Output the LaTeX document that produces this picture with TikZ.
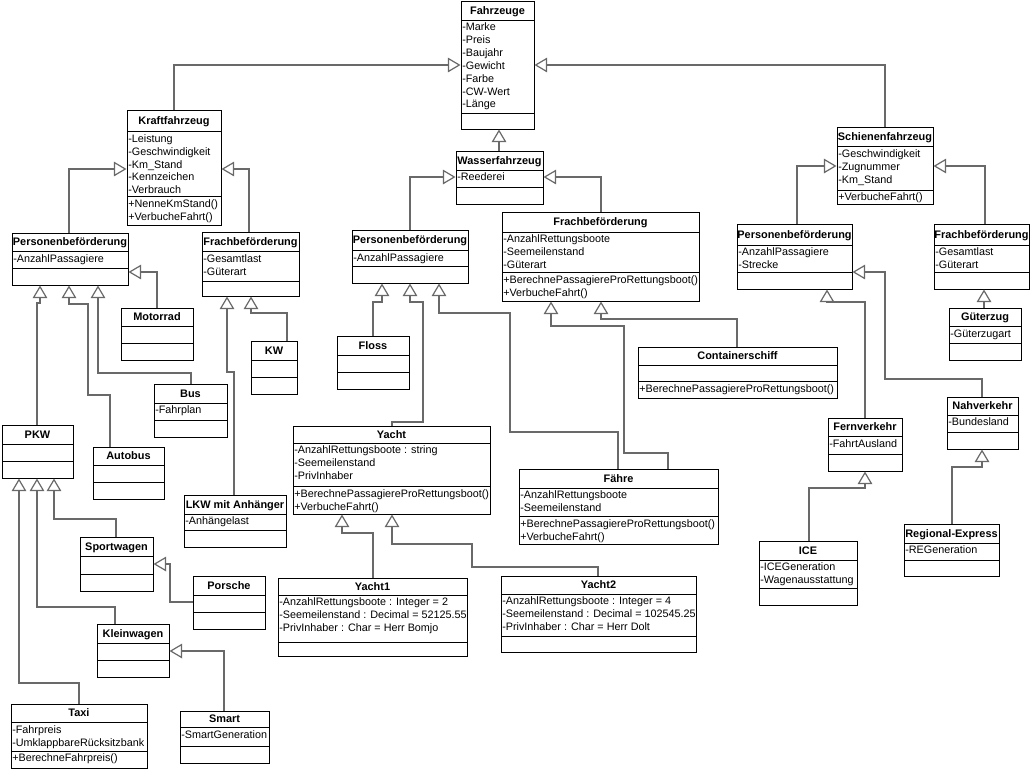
\documentclass[tikz,border=0pt]{standalone}
\usepackage{fontspec}
\setmainfont{Liberation Sans}
\usetikzlibrary{arrows.meta,fit}
\definecolor{linegray}{RGB}{105,105,105}
\tikzset{
 cls/.style={draw=black, line width=0.75pt, fill=white, inner sep=0pt},
 divider/.style={draw=black, line width=0.75pt},
 gen/.style={draw=linegray, line width=0.9pt, -{Triangle[open,length=9.5pt,width=11pt]}},
 ttl/.style={anchor=base, inner sep=0pt, font=\fontsize{8.2pt}{9.7pt}\selectfont\bfseries},
 txt/.style={anchor=base west, inner sep=0pt, font=\fontsize{8.1pt}{9.7pt}\selectfont},
}
\newcommand\umlclass[8]{%
  \node[cls, fit={(#2,#3) (#4,#5)}] (#1) {};
  \draw[divider] (#2,#6) -- (#4,#6);
  \draw[divider] (#2,#7) -- (#4,#7);
  \node[ttl] (#1-t) at ({(#2+#4)/2},{(#3+#6)/2+3.5}) {#8};
}
\newcommand\umllines[4]{%
  \foreach \itm [count=\nn from 0] in {#4} {\node[txt] (#1\nn) at ({#2+1},{#3+10.5+12.9*\nn}) {\itm};}
}
\begin{document}
\begin{tikzpicture}[x=0.75pt,y=-0.75pt, font=\fontsize{8.1pt}{9.7pt}\selectfont]
\fill[white] (0,0) rectangle (1034,769);
\useasboundingbox (0,0) rectangle (1034,769);

% ---- classes ----
\umlclass{Fz}{461}{1}{534}{129}{20}{113}{Fahrzeuge}
\umllines{Fz-a}{461}{20}{-Marke,-Preis,-Baujahr,-Gewicht,-Farbe,-CW-Wert,-Länge}

\umlclass{Kfz}{127}{110}{221}{225}{131.7}{196.7}{Kraftfahrzeug}
\umllines{Kfz-a}{127}{131.7}{-Leistung,-Geschwindigkeit,-Km\_Stand,-Kennzeichen,-Verbrauch}
\umllines{Kfz-m}{127}{196.7}{+NenneKmStand(),+VerbucheFahrt()}

\umlclass{Wf}{456}{151}{543}{204}{170}{187.7}{Wasserfahrzeug}
\umllines{Wf-a}{456}{170}{-Reederei}

\umlclass{Sf}{837}{127}{933}{204}{146.7}{190}{Schienenfahrzeug}
\umllines{Sf-a}{837}{146.7}{-Geschwindigkeit,-Zugnummer,-Km\_Stand}
\umllines{Sf-m}{837}{190}{+VerbucheFahrt()}

\umlclass{PbK}{12}{233}{128}{285}{251.7}{268.3}{Personenbeförderung}
\umllines{PbK-a}{12}{251.7}{-AnzahlPassagiere}

\umlclass{FbK}{202}{232}{299}{296}{251.7}{281.5}{Frachbeförderung}
\umllines{FbK-a}{202}{251.7}{-Gesamtlast,-Güterart}

\umlclass{Motorrad}{121}{308}{193}{360}{326.7}{343.3}{Motorrad}
\umlclass{KW}{251}{341}{297}{394}{360}{377.3}{KW}
\umlclass{Bus}{154}{384}{227}{437}{403.3}{420.7}{Bus}
\umllines{Bus-a}{154}{403.3}{-Fahrplan}
\umlclass{PKW}{2}{425}{73}{478}{444}{461}{PKW}
\umlclass{Autobus}{93}{447}{164}{499}{465.7}{482.3}{Autobus}
\umlclass{LKW}{184}{495}{286}{547}{514}{530.7}{LKW mit Anhänger}
\umllines{LKW-a}{184}{514}{-Anhängelast}
\umlclass{Sportwagen}{80}{537}{153}{591}{556.7}{574}{Sportwagen}
\umlclass{Porsche}{193}{576}{265}{629}{595.3}{612.3}{Porsche}
\umlclass{Kleinwagen}{97}{624}{169}{677}{643.3}{660}{Kleinwagen}
\umlclass{Taxi}{11}{704}{147}{768}{722.7}{751}{Taxi}
\umllines{Taxi-a}{11}{722.7}{-Fahrpreis,-UmklappbareRücksitzbank}
\umllines{Taxi-m}{11}{751}{+BerechneFahrpreis()}
\umlclass{Smart}{180}{711}{269}{763}{727.7}{746}{Smart}
\umllines{Smart-a}{180}{727.7}{-SmartGeneration}

\umlclass{PbW}{352}{230}{468}{283}{250.7}{266}{Personenbeförderung}
\umllines{PbW-a}{352}{250.7}{-AnzahlPassagiere}
\umlclass{FbW}{502}{212}{699}{301}{232.3}{272.7}{Frachbeförderung}
\umllines{FbW-a}{502}{232.3}{-AnzahlRettungsboote,-Seemeilenstand,-Güterart}
\umllines{FbW-m}{502}{272.7}{+BerechnePassagiereProRettungsboot(),+VerbucheFahrt()}
\umlclass{Floss}{337}{336}{409}{389}{355}{372.3}{Floss}
\umlclass{Container}{638}{347}{837}{398}{365.7}{381.7}{Containerschiff}
\umllines{Container-m}{638}{381.7}{+BerechnePassagiereProRettungsboot()}
\umlclass{Yacht}{293}{426}{490}{514}{443.3}{486.7}{Yacht}
\umllines{Yacht-a}{293}{443.3}{-AnzahlRettungsboote : string,-Seemeilenstand,-PrivInhaber}
\umllines{Yacht-m}{293}{486.7}{+BerechnePassagiereProRettungsboot(),+VerbucheFahrt()}
\umlclass{Faehre}{519}{469}{718}{544}{488.3}{516.7}{Fähre}
\umllines{Faehre-a}{519}{488.3}{-AnzahlRettungsboote,-Seemeilenstand}
\umllines{Faehre-m}{519}{516.7}{+BerechnePassagiereProRettungsboot(),+VerbucheFahrt()}
\umlclass{YachtA}{278}{578}{467}{656}{595}{642.3}{Yacht1}
\umllines{YachtA-a}{278}{595}{-AnzahlRettungsboote : Integer = 2,-Seemeilenstand : Decimal = 52125.55,-PrivInhaber : Char = Herr Bomjo}
\umlclass{YachtB}{501}{576}{696}{652}{594}{636.7}{Yacht2}
\umllines{YachtB-a}{501}{594}{-AnzahlRettungsboote : Integer = 4,-Seemeilenstand : Decimal = 102545.25,-PrivInhaber : Char = Herr Dolt}

\umlclass{PbS}{737}{224}{852}{289}{245}{272.3}{Personenbeförderung}
\umllines{PbS-a}{737}{245}{-AnzahlPassagiere,-Strecke}
\umlclass{FbS}{934}{224}{1029}{289}{245}{272.3}{Frachbeförderung}
\umllines{FbS-a}{934}{245}{-Gesamtlast,-Güterart}
\umlclass{Gz}{949}{308}{1021}{360}{326.7}{343.3}{Güterzug}
\umllines{Gz-a}{949}{326.7}{-Güterzugart}
\umlclass{Fern}{828}{418}{902}{471}{436.7}{454}{Fernverkehr}
\umllines{Fern-a}{828}{436.7}{-FahrtAusland}
\umlclass{Nah}{947}{397}{1018}{449}{415}{432.3}{Nahverkehr}
\umllines{Nah-a}{947}{415}{-Bundesland}
\umlclass{ICE}{759}{541}{857}{605}{560}{588.3}{ICE}
\umllines{ICE-a}{759}{560}{-ICEGeneration,-Wagenausstattung}
\umlclass{RE}{904}{524}{999}{576}{543.3}{560}{Regional-Express}
\umllines{RE-a}{904}{543.3}{-REGeneration}

% ---- generalisations ----
\draw[gen] (Kfz.north -| 174,0) -- (174,65) -- (Fz.west |- 0,65);
\draw[gen] (Sf.north -| 885,0) -- (885,65) -- (Fz.east |- 0,65);
\draw[gen] (Wf.north -| 499,0) -- (Fz.south -| 499,0);
\draw[gen] (PbK.north -| 69,0) -- (69,169) -- (Kfz.west |- 0,169);
\draw[gen] (FbK.north -| 249,0) -- (249,169) -- (Kfz.east |- 0,169);
\draw[gen] (Motorrad.north -| 157,0) -- (157,272) -- (PbK.east |- 0,272);
\draw[gen] (PKW.north -| 37,0) -- (37,303) -- (40,303) -- (PbK.south -| 40,0);
\draw[gen] (Autobus.north -| 110,0) -- (110,395) -- (88,395) -- (88,304) -- (69,304) -- (PbK.south -| 69,0);
\draw[gen] (Bus.north -| 191,0) -- (191,373) -- (98,373) -- (PbK.south -| 98,0);
\draw[gen] (LKW.north -| 234,0) -- (234,372) -- (227,372) -- (FbK.south -| 227,0);
\draw[gen] (KW.north -| 287,0) -- (287,313) -- (251,313) -- (FbK.south -| 251,0);
\draw[gen] (Taxi.north -| 79,0) -- (79,683) -- (19,683) -- (PKW.south -| 19,0);
\draw[gen] (Kleinwagen.north -| 115,0) -- (115,607) -- (37,607) -- (PKW.south -| 37,0);
\draw[gen] (Sportwagen.north -| 116,0) -- (116,519) -- (54,519) -- (PKW.south -| 54,0);
\draw[gen] (Porsche.west |- 0,602) -- (170,602) -- (170,564) -- (Sportwagen.east |- 0,564);
\draw[gen] (Smart.north -| 224,0) -- (224,651) -- (Kleinwagen.east |- 0,651);
\draw[gen] (PbW.north -| 410,0) -- (410,177) -- (Wf.west |- 0,177);
\draw[gen] (FbW.north -| 601,0) -- (601,177) -- (Wf.east |- 0,177);
\draw[gen] (Floss.north -| 373,0) -- (373,302) -- (382,302) -- (PbW.south -| 382,0);
\draw[gen] (Yacht.north -| 392,0) -- (392,422) -- (423,422) -- (423,302) -- (410,302) -- (PbW.south -| 410,0);
\draw[gen] (Faehre.north -| 618,0) -- (618,432) -- (510,432) -- (510,313) -- (439,313) -- (PbW.south -| 439,0);
\draw[gen] (Faehre.north -| 668,0) -- (668,453) -- (624,453) -- (624,326) -- (551,326) -- (FbW.south -| 551,0);
\draw[gen] (Container.north -| 737,0) -- (737,319) -- (601,319) -- (FbW.south -| 601,0);
\draw[gen] (YachtA.north -| 373,0) -- (373,533) -- (342,533) -- (Yacht.south -| 342,0);
\draw[gen] (YachtB.north -| 598,0) -- (598,567) -- (472,567) -- (472,544) -- (392,544) -- (Yacht.south -| 392,0);
\draw[gen] (PbS.north -| 797,0) -- (797,166) -- (Sf.west |- 0,166);
\draw[gen] (FbS.north -| 985,0) -- (985,166) -- (Sf.east |- 0,166);
\draw[gen] (Nah.north -| 982,0) -- (982,379) -- (885,379) -- (885,272) -- (PbS.east |- 0,272);
\draw[gen] (Fern.north -| 865,0) -- (865,302) -- (827,302) -- (PbS.south -| 827,0);
\draw[gen] (Gz.north -| 984,0) -- (FbS.south -| 984,0);
\draw[gen] (ICE.north -| 809,0) -- (809,488) -- (865,488) -- (Fern.south -| 865,0);
\draw[gen] (RE.north -| 952,0) -- (952,467) -- (982,467) -- (Nah.south -| 982,0);
\end{tikzpicture}
\end{document}
